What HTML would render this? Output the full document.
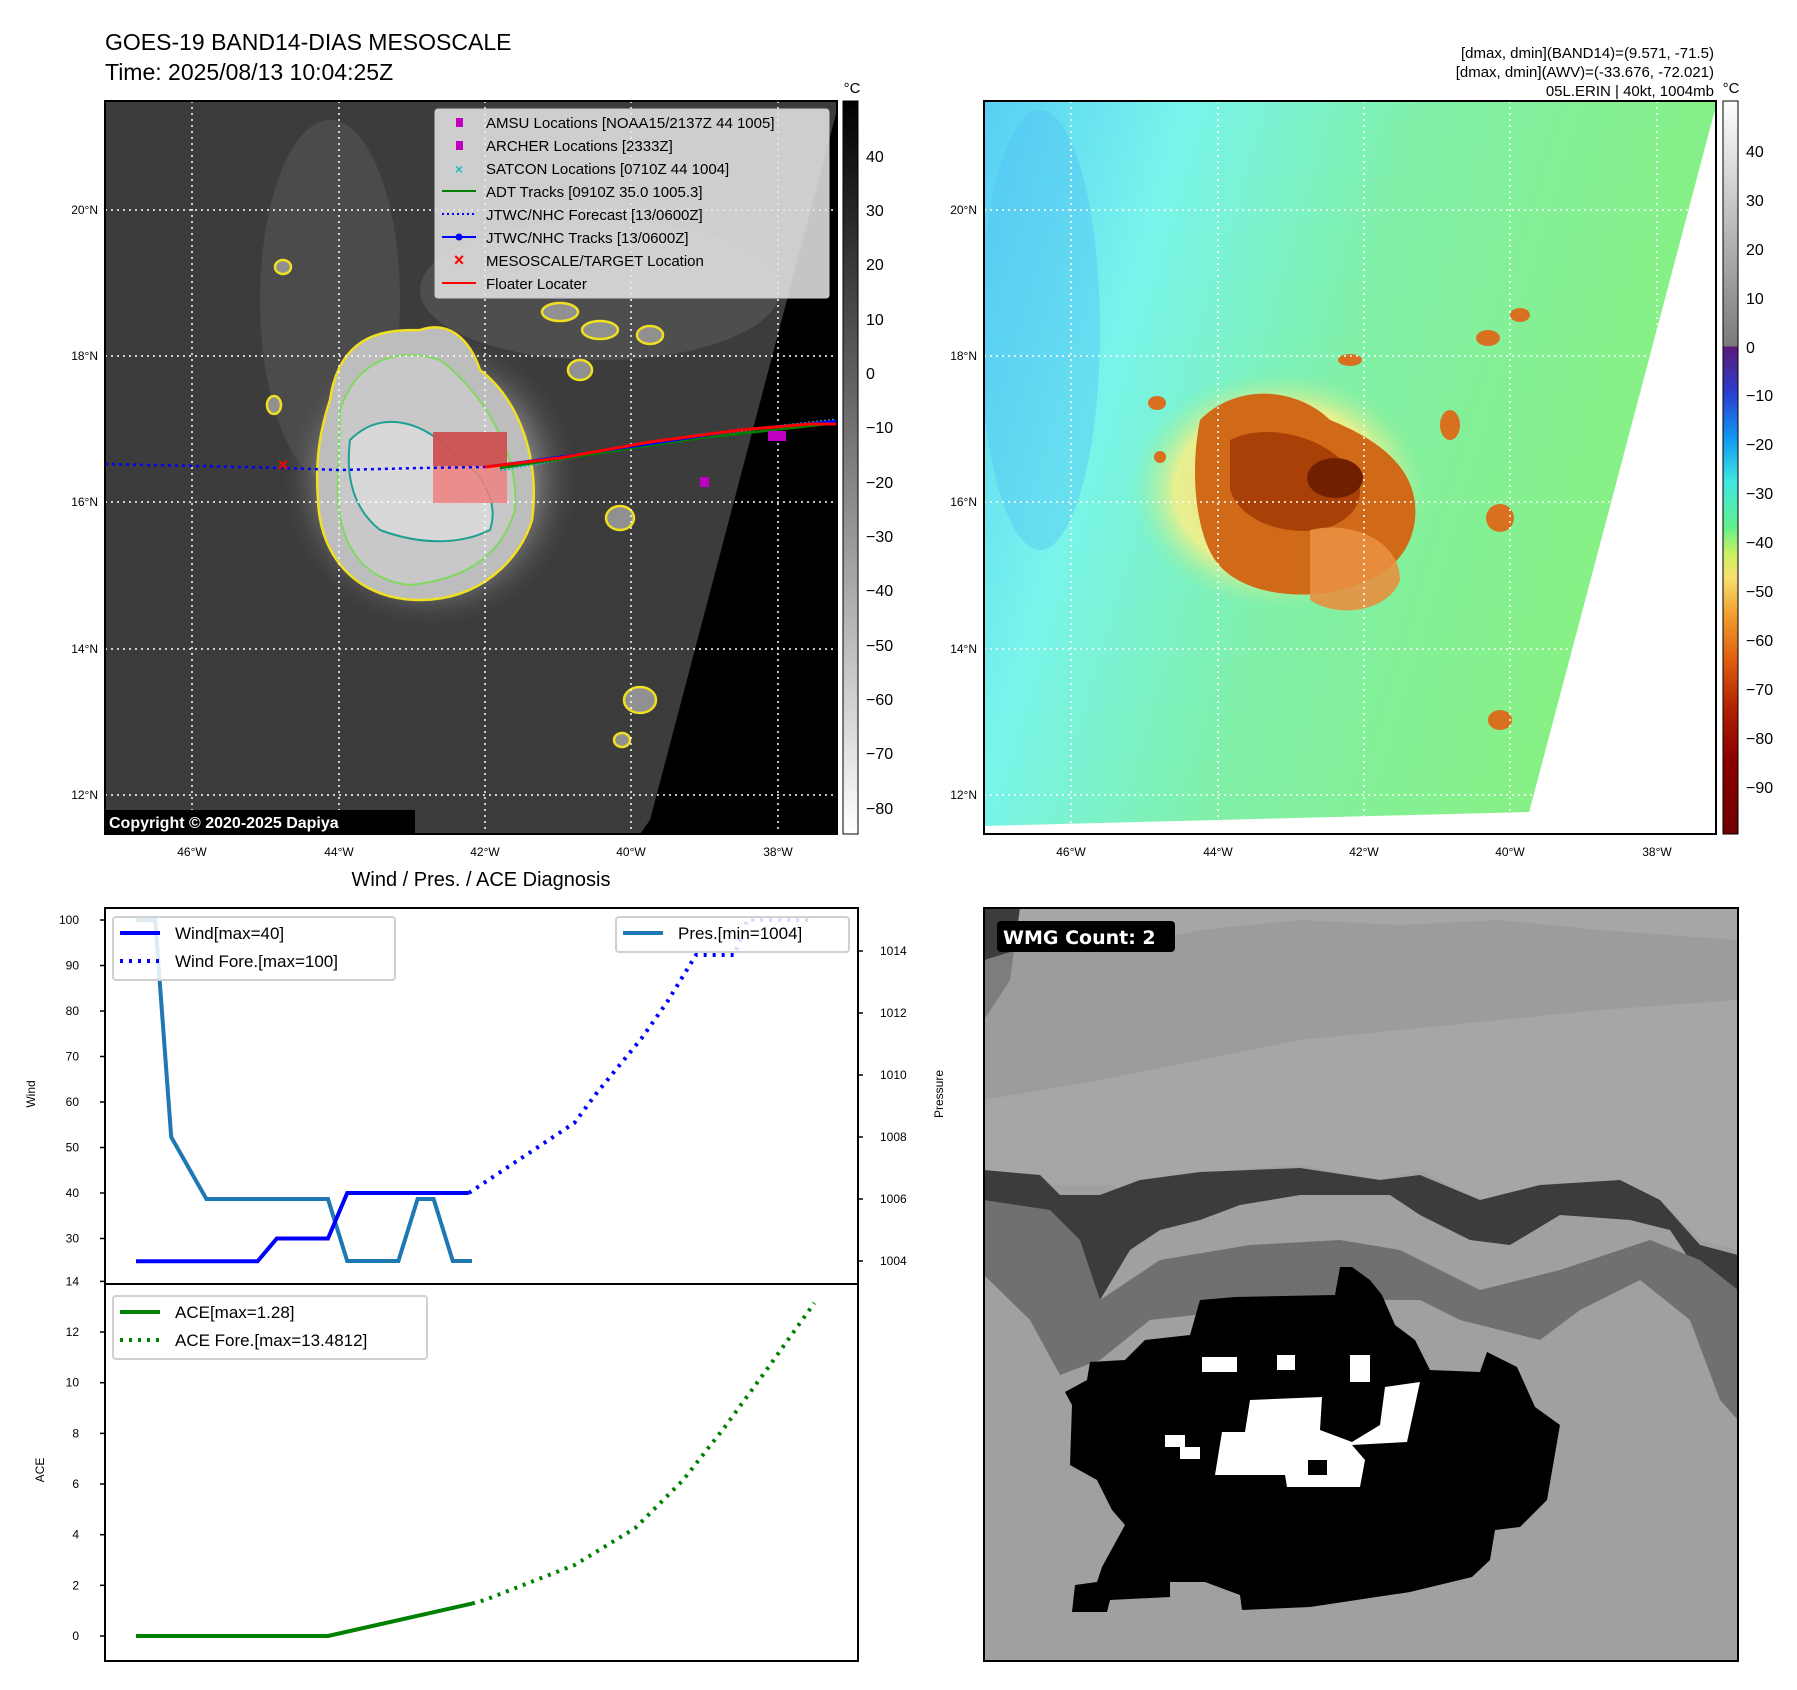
<!DOCTYPE html>
<html><head><meta charset="utf-8"><style>
html,body{margin:0;padding:0;background:#fff;}
svg{display:block;font-family:"Liberation Sans","DejaVu Sans",sans-serif;}
</style></head><body>
<svg id="fig" width="1797" height="1690" viewBox="0 0 1797 1690" xmlns="http://www.w3.org/2000/svg">
<defs>
<linearGradient id="cbL" x1="0" y1="0" x2="0" y2="1"><stop offset="0" stop-color="#000"/><stop offset="1" stop-color="#fff"/></linearGradient>
<linearGradient id="cbR" x1="0" y1="101" x2="0" y2="834" gradientUnits="userSpaceOnUse">
<stop offset="0" stop-color="#ffffff"/><stop offset="0.335" stop-color="#7a7a7a"/><stop offset="0.3351" stop-color="#5a1a78"/>
<stop offset="0.40" stop-color="#2a40d0"/><stop offset="0.46" stop-color="#1098f0"/><stop offset="0.52" stop-color="#40e8e0"/>
<stop offset="0.58" stop-color="#60f090"/><stop offset="0.62" stop-color="#d0f060"/><stop offset="0.65" stop-color="#f8e070"/>
<stop offset="0.70" stop-color="#f0a030"/><stop offset="0.76" stop-color="#e06010"/><stop offset="0.83" stop-color="#b02000"/>
<stop offset="0.90" stop-color="#8a0000"/><stop offset="1" stop-color="#700000"/></linearGradient>
<radialGradient id="stormL" cx="0.5" cy="0.5" r="0.5"><stop offset="0" stop-color="#d0d0d0"/><stop offset="0.6" stop-color="#a0a0a0"/><stop offset="1" stop-color="#404040" stop-opacity="0"/></radialGradient>
<linearGradient id="bgR" x1="0" y1="0" x2="1" y2="0.3"><stop offset="0" stop-color="#58cef4"/><stop offset="0.25" stop-color="#78f4ec"/><stop offset="0.55" stop-color="#80f0a8"/><stop offset="1" stop-color="#88f080"/></linearGradient>
<radialGradient id="stormR" cx="0.5" cy="0.5" r="0.5"><stop offset="0" stop-color="#f0d070"/><stop offset="0.7" stop-color="#e8f090"/><stop offset="1" stop-color="#90f0a0" stop-opacity="0"/></radialGradient>
<clipPath id="clipL"><rect x="105" y="101" width="732" height="733"/></clipPath>
<clipPath id="clipR"><rect x="984" y="101" width="732" height="733"/></clipPath>
</defs>

<text x="105" y="50" font-size="23">GOES-19 BAND14-DIAS MESOSCALE</text>
<text x="105" y="80" font-size="23">Time: 2025/08/13 10:04:25Z</text>
<g font-size="15" text-anchor="end">
<text x="1714" y="58">[dmax, dmin](BAND14)=(9.571, -71.5)</text>
<text x="1714" y="77">[dmax, dmin](AWV)=(-33.676, -72.021)</text>
<text x="1714" y="96">05L.ERIN | 40kt, 1004mb</text>
</g>

<!-- LEFT MAP -->
<g clip-path="url(#clipL)">
<rect x="105" y="101" width="732" height="733" fill="#3c3c3c"/>
<ellipse cx="330" cy="300" rx="70" ry="180" fill="#555" opacity="0.6"/>
<ellipse cx="600" cy="290" rx="180" ry="70" fill="#5a5a5a" opacity="0.6"/>
<ellipse cx="430" cy="480" rx="150" ry="150" fill="url(#stormL)"/>
<path d="M330,400 C340,330 390,330 420,330 C450,320 470,340 480,370 C520,400 540,460 532,520 C520,560 480,600 420,600 C360,600 320,560 318,500 C315,460 320,430 330,400Z" fill="#bdbdbd" stroke="#f0e020" stroke-width="2.5"/>
<path d="M340,410 C360,350 410,350 440,360 C480,390 520,450 515,510 C500,560 460,580 410,585 C360,580 335,540 338,480Z" fill="#c8c8c8" stroke="#80d860" stroke-width="2"/>
<path d="M350,440 C380,410 420,420 450,450 C480,470 500,500 490,530 C460,545 420,545 380,530 C355,510 345,480 350,440Z" fill="#d8d8d8" stroke="#20a090" stroke-width="2"/>
<path d="M650,820 L837,110 L837,834 L640,834Z" fill="#000"/>
<g fill="#909090" stroke="#f0e020" stroke-width="2.5">
<ellipse cx="274" cy="405" rx="7" ry="9"/><ellipse cx="283" cy="267" rx="8" ry="7"/>
<ellipse cx="580" cy="370" rx="12" ry="10"/><ellipse cx="620" cy="518" rx="14" ry="12"/>
<ellipse cx="600" cy="330" rx="18" ry="9"/><ellipse cx="650" cy="335" rx="13" ry="9"/>
<ellipse cx="640" cy="700" rx="16" ry="13"/><ellipse cx="622" cy="740" rx="8" ry="7"/>
<ellipse cx="560" cy="312" rx="18" ry="9"/>
</g>
<g stroke="#fff" stroke-width="1.5" stroke-dasharray="2,4">
<line x1="192" y1="101" x2="192" y2="834"/><line x1="339" y1="101" x2="339" y2="834"/><line x1="485" y1="101" x2="485" y2="834"/><line x1="631" y1="101" x2="631" y2="834"/><line x1="778" y1="101" x2="778" y2="834"/>
<line x1="105" y1="210" x2="837" y2="210"/><line x1="105" y1="356" x2="837" y2="356"/><line x1="105" y1="502" x2="837" y2="502"/><line x1="105" y1="649" x2="837" y2="649"/><line x1="105" y1="795" x2="837" y2="795"/>
</g>
<rect x="433" y="432" width="74" height="71" fill="#f08080" opacity="0.85"/>
<rect x="433" y="432" width="74" height="34" fill="#c04040" opacity="0.7"/>
<polyline points="105,464 200,466 283,468 339,470 420,468 485,467" fill="none" stroke="#0000ff" stroke-width="2.5" stroke-dasharray="3,4"/>
<polyline points="500,470 600,452 700,435 837,420" fill="none" stroke="#20c0c0" stroke-width="3" stroke-dasharray="2,2"/>
<polyline points="500,468 600,453 700,438 837,423" fill="none" stroke="#008000" stroke-width="2.5"/>
<polyline points="485,467 560,457 650,444 740,430 837,421" fill="none" stroke="#0000ff" stroke-width="2.5"/>
<polyline points="485,467 560,458 650,442 740,430 810,424 837,424" fill="none" stroke="#ff0000" stroke-width="3"/>
<text x="283" y="471" font-size="18" fill="#ff0000" text-anchor="middle" font-weight="bold">×</text>
<rect x="700" y="477" width="9" height="10" fill="#c000c0"/><rect x="768" y="431" width="9" height="10" fill="#c000c0"/><rect x="777" y="431" width="9" height="10" fill="#c000c0"/>
<rect x="105" y="810" width="310" height="24" fill="#000"/>
<text x="109" y="828" font-size="16" font-weight="bold" fill="#fff">Copyright © 2020-2025 Dapiya</text>
</g>
<rect x="105" y="101" width="732" height="733" fill="none" stroke="#000" stroke-width="2"/>

<g font-size="15">
<rect x="435" y="109" width="394" height="189" fill="#e8e8e8" fill-opacity="0.85" stroke="#ccc" rx="3"/>
<rect x="456" y="118" width="7" height="9" fill="#c000c0"/><text x="486" y="128">AMSU Locations [NOAA15/2137Z 44 1005]</text>
<rect x="456" y="141" width="7" height="9" fill="#c000c0"/><text x="486" y="151">ARCHER Locations [2333Z]</text>
<text x="459" y="174" fill="#20c0c0" text-anchor="middle" font-weight="bold" font-size="14">×</text><text x="486" y="174">SATCON Locations [0710Z 44 1004]</text>
<line x1="442" y1="191" x2="476" y2="191" stroke="#008000" stroke-width="2"/><text x="486" y="197">ADT Tracks [0910Z 35.0 1005.3]</text>
<line x1="442" y1="214" x2="476" y2="214" stroke="#0000ff" stroke-width="2" stroke-dasharray="2,3"/><text x="486" y="220">JTWC/NHC Forecast [13/0600Z]</text>
<line x1="442" y1="237" x2="476" y2="237" stroke="#0000ff" stroke-width="2"/><circle cx="459" cy="237" r="3.5" fill="#0000ff"/><text x="486" y="243">JTWC/NHC Tracks [13/0600Z]</text>
<text x="459" y="266" fill="#ff0000" text-anchor="middle" font-weight="bold" font-size="18">×</text><text x="486" y="266">MESOSCALE/TARGET Location</text>
<line x1="442" y1="283" x2="476" y2="283" stroke="#ff0000" stroke-width="2"/><text x="486" y="289">Floater Locater</text>
</g>

<g font-size="12" text-anchor="middle">
<text x="192" y="856">46°W</text><text x="339" y="856">44°W</text><text x="485" y="856">42°W</text><text x="631" y="856">40°W</text><text x="778" y="856">38°W</text></g>
<g font-size="12" text-anchor="end">
<text x="98" y="214">20°N</text><text x="98" y="360">18°N</text><text x="98" y="506">16°N</text><text x="98" y="653">14°N</text><text x="98" y="799">12°N</text></g>

<g>
<rect x="843" y="101" width="15" height="733" fill="url(#cbL)" stroke="#000" stroke-width="1"/>
<text x="852" y="93" font-size="15" text-anchor="middle">°C</text>
<g font-size="16">
<text x="866" y="162">40</text><text x="866" y="216">30</text><text x="866" y="270">20</text><text x="866" y="325">10</text><text x="866" y="379">0</text>
<text x="866" y="433">−10</text><text x="866" y="488">−20</text><text x="866" y="542">−30</text><text x="866" y="596">−40</text>
<text x="866" y="651">−50</text><text x="866" y="705">−60</text><text x="866" y="759">−70</text><text x="866" y="814">−80</text></g></g>

<!-- RIGHT MAP -->
<g clip-path="url(#clipR)">
<rect x="984" y="101" width="732" height="733" fill="url(#bgR)"/>
<ellipse cx="1040" cy="330" rx="60" ry="220" fill="#50c0f4" opacity="0.4"/>
<ellipse cx="1280" cy="490" rx="150" ry="120" fill="url(#stormR)"/>
<path d="M1200,420 C1240,380 1300,390 1330,420 C1380,440 1420,470 1415,520 C1410,560 1380,580 1340,590 C1300,600 1240,595 1215,560 C1195,530 1190,470 1200,420Z" fill="#d06a18"/>
<path d="M1230,440 C1270,420 1330,440 1350,470 C1370,490 1360,520 1320,530 C1280,535 1240,520 1230,490Z" fill="#a84008"/>
<ellipse cx="1335" cy="478" rx="28" ry="20" fill="#702000"/>
<path d="M1310,530 C1350,520 1400,540 1400,580 C1390,610 1340,620 1310,600Z" fill="#e89040" opacity="0.9"/>
<g fill="#d87020"><ellipse cx="1488" cy="338" rx="12" ry="8"/><ellipse cx="1520" cy="315" rx="10" ry="7"/><ellipse cx="1500" cy="518" rx="14" ry="14"/><ellipse cx="1500" cy="720" rx="12" ry="10"/><ellipse cx="1157" cy="403" rx="9" ry="7"/><ellipse cx="1160" cy="457" rx="6" ry="6"/><ellipse cx="1450" cy="425" rx="10" ry="15"/><ellipse cx="1350" cy="360" rx="12" ry="6"/></g>
<path d="M1527,820 L1716,106 L1716,834 L1520,834Z" fill="#fff"/>
<path d="M984,826 L1530,812 L1530,834 L984,834Z" fill="#fff"/>
<g stroke="#fff" stroke-width="1.5" stroke-dasharray="2,4">
<line x1="1071" y1="101" x2="1071" y2="834"/><line x1="1218" y1="101" x2="1218" y2="834"/><line x1="1364" y1="101" x2="1364" y2="834"/><line x1="1510" y1="101" x2="1510" y2="834"/><line x1="1657" y1="101" x2="1657" y2="834"/>
<line x1="984" y1="210" x2="1716" y2="210"/><line x1="984" y1="356" x2="1716" y2="356"/><line x1="984" y1="502" x2="1716" y2="502"/><line x1="984" y1="649" x2="1716" y2="649"/><line x1="984" y1="795" x2="1716" y2="795"/>
</g></g>
<rect x="984" y="101" width="732" height="733" fill="none" stroke="#000" stroke-width="2"/>
<g font-size="12" text-anchor="middle">
<text x="1071" y="856">46°W</text><text x="1218" y="856">44°W</text><text x="1364" y="856">42°W</text><text x="1510" y="856">40°W</text><text x="1657" y="856">38°W</text></g>
<g font-size="12" text-anchor="end">
<text x="977" y="214">20°N</text><text x="977" y="360">18°N</text><text x="977" y="506">16°N</text><text x="977" y="653">14°N</text><text x="977" y="799">12°N</text></g>
<g>
<rect x="1723" y="101" width="15" height="733" fill="url(#cbR)" stroke="#000" stroke-width="1"/>
<text x="1731" y="93" font-size="15" text-anchor="middle">°C</text>
<g font-size="16">
<text x="1746" y="157">40</text><text x="1746" y="206">30</text><text x="1746" y="255">20</text><text x="1746" y="304">10</text><text x="1746" y="353">0</text>
<text x="1746" y="401">−10</text><text x="1746" y="450">−20</text><text x="1746" y="499">−30</text><text x="1746" y="548">−40</text><text x="1746" y="597">−50</text>
<text x="1746" y="646">−60</text><text x="1746" y="695">−70</text><text x="1746" y="744">−80</text><text x="1746" y="793">−90</text></g></g>

<!-- BOTTOM RIGHT WMG -->
<g>
<rect x="984" y="908" width="754" height="753" fill="#a0a0a0"/>
<polygon points="984,908 1738,908 1738,1250 1700,1240 1660,1200 1620,1180 1540,1190 1480,1200 1420,1170 1380,1180 1300,1165 1230,1170 1180,1190 1150,1200 1110,1185 1060,1185 984,1180" fill="#a6a6a6"/>
<polygon points="984,908 1020,908 1010,980 984,1020" fill="#3c3c3c"/>
<polygon points="984,960 1050,940 1110,950 1200,930 1300,920 1400,925 1500,920 1600,930 1738,940 1738,1000 1600,1010 1500,1020 1400,1030 1300,1040 1200,1060 1100,1080 984,1100" fill="#999999" opacity="0.7"/>
<polygon points="984,1170 1040,1175 1060,1195 1100,1195 1140,1180 1200,1172 1250,1170 1300,1168 1380,1180 1420,1175 1480,1200 1540,1185 1620,1180 1660,1200 1700,1245 1738,1255 1738,1290 1700,1275 1670,1230 1630,1220 1560,1215 1510,1245 1470,1240 1420,1215 1390,1195 1300,1195 1240,1205 1200,1220 1160,1230 1130,1250 1100,1300 1070,1305 1040,1240 984,1230" fill="#3c3c3c"/>
<polygon points="984,1200 1050,1210 1080,1240 1100,1300 1160,1260 1250,1245 1340,1240 1400,1250 1480,1290 1560,1270 1650,1240 1700,1260 1738,1290 1738,1420 1720,1400 1690,1320 1640,1280 1580,1310 1540,1340 1460,1320 1420,1300 1360,1300 1320,1310 1300,1300 1240,1310 1150,1320 1100,1360 1060,1375 1030,1320 984,1275" fill="#707070"/>
<polygon id="wmgblob" fill="#000" points="1072,1612 1075,1585 1097,1582 1102,1567 1125,1525 1112,1510 1097,1480 1070,1465 1072,1405 1065,1392 1087,1380 1090,1362 1125,1360 1145,1340 1190,1335 1200,1300 1235,1297 1335,1295 1340,1267 1352,1267 1370,1280 1382,1295 1395,1325 1415,1340 1430,1370 1480,1372 1487,1352 1517,1367 1535,1407 1560,1425 1547,1500 1520,1527 1495,1530 1490,1560 1472,1577 1410,1592 1310,1607 1242,1610 1240,1595 1205,1582 1170,1582 1170,1597 1110,1600 1107,1612"/>
<g fill="#fff">
<polygon points="1250,1400 1322,1397 1320,1430 1352,1442 1380,1425 1385,1387 1420,1382 1407,1442 1352,1445 1365,1460 1360,1487 1287,1487 1285,1475 1215,1475 1222,1432 1245,1432"/>
<rect x="1202" y="1357" width="35" height="15"/><rect x="1277" y="1355" width="18" height="15"/><rect x="1350" y="1355" width="20" height="27"/>
<rect x="1165" y="1435" width="20" height="12"/><rect x="1180" y="1447" width="20" height="12"/>
</g>
<polygon points="1308,1460 1327,1460 1327,1475 1308,1475" fill="#000"/>
<rect x="997" y="921" width="178" height="31" rx="4" fill="#000"/>
<text x="1003" y="944" font-size="19" font-weight="bold" fill="#fff" font-family="DejaVu Sans, sans-serif">WMG Count: 2</text>
</g>
<rect x="984" y="908" width="754" height="753" fill="none" stroke="#000" stroke-width="2"/>

<!-- DIAGNOSIS CHART -->
<text x="481" y="886" font-size="20" text-anchor="middle">Wind / Pres. / ACE Diagnosis</text>
<g id="diag"></g>
</svg>
<script>
// ---- data (x = hours from first fix) ----
const windObsT = [0, 38, 44, 60, 66, 104];
const windObsV = [25, 25, 30, 30, 40, 40];
const windForeT = [104, 137, 144, 158, 166, 175, 187, 191, 212];
const windForeV = [40, 55.4, 62, 74, 82, 92.3, 92.3, 100, 100];
const presT = [0, 6, 11, 22, 60, 66, 82, 88, 93, 99, 105];
const presV = [1015, 1015, 1008, 1006, 1006, 1004, 1004, 1006, 1006, 1004, 1004];
const aceObsT = [0, 60, 105];
const aceObsV = [0, 0, 1.28];
const aceForeT = [105, 109, 137, 156, 171, 184, 197, 212];
const aceForeV = [1.28, 1.42, 2.8, 4.26, 6.16, 8.25, 10.5, 13.15];
const windTicks = [30, 40, 50, 60, 70, 80, 90, 100];
const presTicks = [1004, 1006, 1008, 1010, 1012, 1014];
const aceTicks = [0, 2, 4, 6, 8, 10, 12, 14];

const NS = "http://www.w3.org/2000/svg";
const g = document.getElementById("diag");
const L = 105, R = 858, T = 908, M = 1284, B = 1661;
const xS = t => 136 + t * 3.2;
const yW = v => 920 + (100 - v) * 4.55;
const yP = v => 1261 - (v - 1004) * 31;
const yA = v => 1636 - v * 25.33;

function mk(tag, attrs, parent) {
  const e = document.createElementNS(NS, tag);
  for (const k in attrs) e.setAttribute(k, attrs[k]);
  (parent || g).appendChild(e);
  return e;
}
function line(ts, vs, ys, color, w, dash, name) {
  const pts = ts.map((t, i) => xS(t).toFixed(1) + "," + ys(vs[i]).toFixed(1)).join(" ");
  const p = mk("polyline", {points: pts, fill: "none", stroke: color, "stroke-width": w});
  if (dash) p.setAttribute("stroke-dasharray", dash);
  
  
  return p;
}
function txt(x, y, s, size, anchor, name) {
  const t = mk("text", {x: x, y: y, "font-size": size, "text-anchor": anchor || "start"});
  t.textContent = s;
  
  
  return t;
}

line(windForeT, windForeV, yW, "#0000ff", 4, "3,6", "wind-forecast-line");
line(presT, presV, yP, "#1f77b4", 4, null, "pressure-line");
line(windObsT, windObsV, yW, "#0000ff", 4, null, "wind-line");
line(aceForeT, aceForeV, yA, "#008000", 4, "3,6", "ace-forecast-line");
line(aceObsT, aceObsV, yA, "#008000", 4, null, "ace-line");

const f1 = mk("rect", {x: L, y: T, width: R - L, height: M - T, fill: "none", stroke: "#000", "stroke-width": 2});


const f2 = mk("rect", {x: L, y: M, width: R - L, height: B - M, fill: "none", stroke: "#000", "stroke-width": 2});



windTicks.forEach(v => {
  const y = yW(v);
  const tk = mk("line", {x1: L - 5, x2: L, y1: y, y2: y, stroke: "#000", "stroke-width": 1.5});
  
  
  txt(L - 26, y + 4, String(v), 12, "end", "wind-tick-label");
});
presTicks.forEach(v => {
  const y = yP(v);
  const tk = mk("line", {x1: R, x2: R + 5, y1: y, y2: y, stroke: "#000", "stroke-width": 1.5});
  
  
  txt(R + 22, y + 4, String(v), 12, "start", "pressure-tick-label");
});
aceTicks.forEach(v => {
  const y = yA(v);
  const tk = mk("line", {x1: L - 5, x2: L, y1: y, y2: y, stroke: "#000", "stroke-width": 1.5});
  
  
  txt(L - 26, y + 4, String(v), 12, "end", "ace-tick-label");
});

const wl = txt(0, 0, "Wind", 12, "middle", "wind-axis-title");
wl.setAttribute("transform", "translate(35,1094) rotate(-90)");
const pl = txt(0, 0, "Pressure", 12, "middle", "pressure-axis-title");
pl.setAttribute("transform", "translate(943,1094) rotate(-90)");
const al = txt(0, 0, "ACE", 12, "middle", "ace-axis-title");
al.setAttribute("transform", "translate(44,1470) rotate(-90)");

function legend(x, y, w, h, items, name) {
  const lg = mk("g", {});
  
  
  mk("rect", {x: x, y: y, width: w, height: h, rx: 3, fill: "#fff", "fill-opacity": 0.85, stroke: "#d0d0d0", "stroke-width": 2}, lg);
  items.forEach((it, i) => {
    const cy = y + 16 + i * 28;
    const ln = mk("line", {x1: x + 7, x2: x + 47, y1: cy, y2: cy, stroke: it.c, "stroke-width": 4}, lg);
    if (it.d) ln.setAttribute("stroke-dasharray", "3,6");
    const t = mk("text", {x: x + 62, y: cy + 6, "font-size": 17}, lg);
    t.textContent = it.s;
  });
}
legend(113, 917, 282, 63, [{c: "#0000ff", s: "Wind[max=40]"}, {c: "#0000ff", s: "Wind Fore.[max=100]", d: 1}], "wind-legend");
legend(616, 917, 233, 35, [{c: "#1f77b4", s: "Pres.[min=1004]"}], "pressure-legend");
legend(113, 1296, 314, 63, [{c: "#008000", s: "ACE[max=1.28]"}, {c: "#008000", s: "ACE Fore.[max=13.4812]", d: 1}], "ace-legend");
</script>
</body></html>
